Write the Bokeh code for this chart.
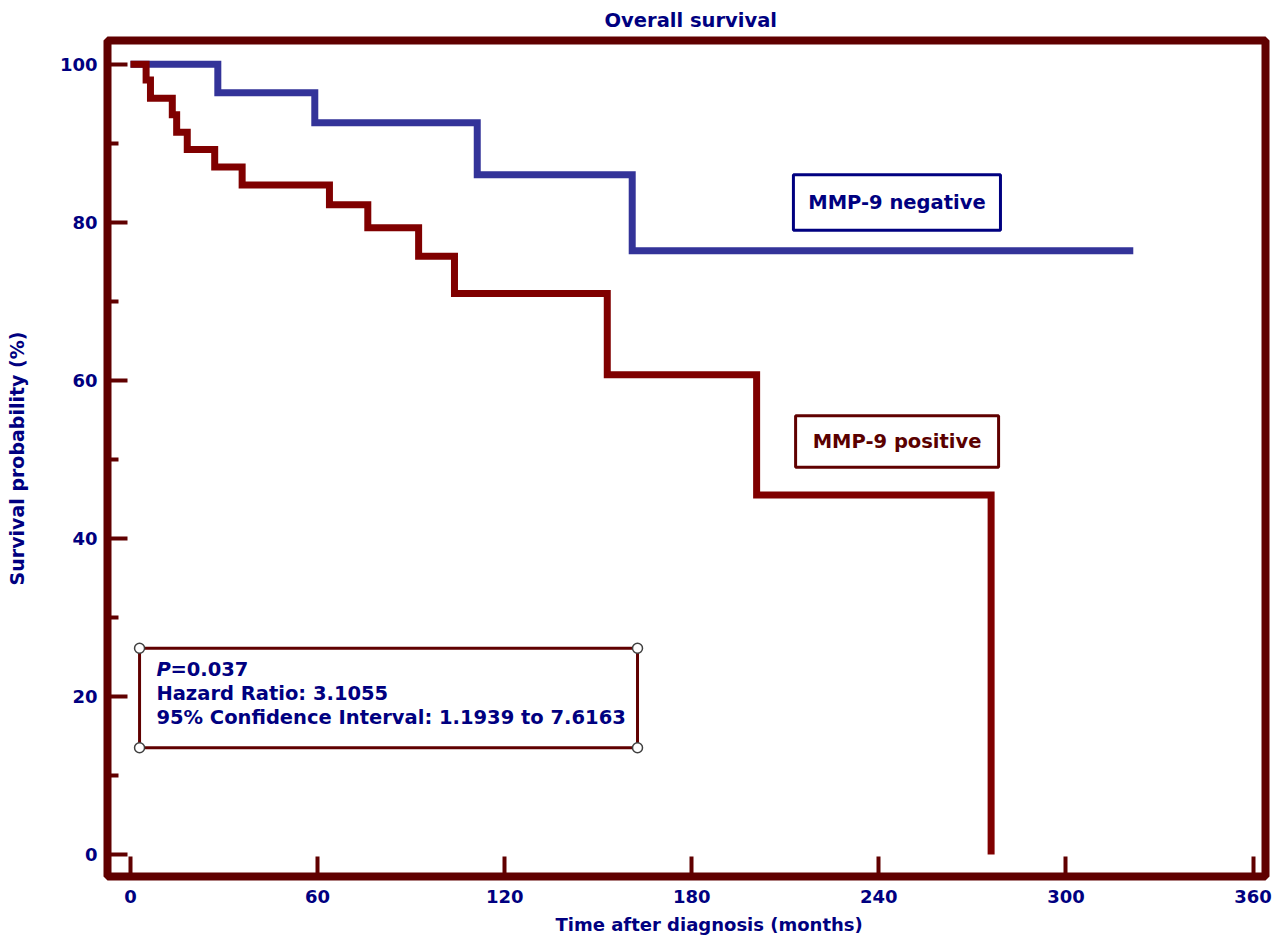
from bokeh.plotting import figure
from bokeh.models import Range1d, FixedTicker, BoxAnnotation, Label, Title
from bokeh.embed import file_html
from bokeh.resources import INLINE

# ---- data ----
neg_time = [0, 28.0, 59.1, 111.2, 160.9, 321.6]
neg_surv = [100, 96.4, 92.6, 86.0, 76.4, 76.4]
pos_time = [0, 5.0, 6.4, 13.4, 14.8, 18.2, 27.0, 35.8, 63.8, 76.1, 92.4, 103.9, 152.9, 200.8, 276.0]
pos_surv = [100, 98.0, 95.7, 93.6, 91.4, 89.2, 87.0, 84.7, 82.2, 79.3, 75.7, 71.0, 60.7, 45.5, 0]
x_ticks = [0, 60, 120, 180, 240, 300, 360]
y_ticks = [0, 20, 40, 60, 80, 100]
y_minor = [10, 30, 50, 70, 90]
title_text = "Overall survival"
x_label = "Time after diagnosis (months)"
y_label = "Survival probability (%)"
neg_label = "MMP-9 negative"
pos_label = "MMP-9 positive"
p_text = "=0.037"
stats_lines = ["Hazard Ratio: 3.1055", "95% Confidence Interval: 1.1939 to 7.6163"]

# ---- styles ----
FRAME = "#600000"
RED = "#800000"
BLUE = "#333399"
NAVY = "#000080"
FONT = "DejaVu Sans"

X0, X1 = -7.38, 364.0
Y0, Y1 = -2.79, 103.0

p = figure(width=1272, height=943, output_backend="svg", toolbar_location=None,
           x_range=Range1d(X0, X1), y_range=Range1d(Y0, Y1),
           min_border_left=107, min_border_right=7, min_border_top=40, min_border_bottom=67)
p.background_fill_color = "white"
p.border_fill_color = "white"
p.xgrid.visible = False
p.ygrid.visible = False
p.outline_line_color = FRAME
p.outline_line_width = 8

t = Title(text=title_text, align="left", offset=497, standoff=14, vertical_align="top",
          text_font=FONT, text_font_size="19.5px", text_font_style="bold", text_color=NAVY)
p.add_layout(t, "above")

for ax in (p.xaxis[0], p.yaxis[0]):
    ax.axis_line_color = None
    ax.major_tick_out = 0
    ax.major_tick_in = 20
    ax.major_tick_line_color = FRAME
    ax.major_tick_line_width = 4
    ax.minor_tick_out = 0
    ax.minor_tick_line_color = FRAME
    ax.minor_tick_line_width = 4
    ax.major_label_text_font = FONT
    ax.major_label_text_font_style = "bold"
    ax.major_label_text_font_size = "18px"
    ax.major_label_text_color = NAVY
    ax.axis_label_text_font = FONT
    ax.axis_label_text_font_style = "bold"
    ax.axis_label_text_color = NAVY

p.xaxis.ticker = FixedTicker(ticks=x_ticks, minor_ticks=[])
p.yaxis.ticker = FixedTicker(ticks=y_ticks, minor_ticks=y_minor)
p.xaxis.minor_tick_in = 0
p.yaxis.minor_tick_in = 11
p.xaxis.major_label_standoff = 13
p.yaxis.major_label_standoff = 10
p.yaxis.axis_label = y_label
p.yaxis.axis_label_text_font_size = "19px"
p.yaxis.axis_label_standoff = 29

# x-axis title placed below the axis, left-aligned with an offset
xt = Title(text=x_label, align="left", offset=448, standoff=13, text_font=FONT,
           text_font_size="18px", text_font_style="bold", text_color=NAVY)
p.add_layout(xt, "below")

# ---- curves ----
p.step(x=neg_time, y=neg_surv, mode="after", line_color=BLUE, line_width=7, line_join="miter")
p.step(x=pos_time, y=pos_surv, mode="after", line_color=RED, line_width=7, line_join="miter")

# ---- label boxes ----
neg_box = dict(left=212.6, right=279.0, top=86.0, bottom=79.0)
pos_box = dict(left=213.3, right=278.4, top=55.5, bottom=49.0)
st_box = dict(left=2.9, right=162.6, top=26.1, bottom=13.5)

p.add_layout(BoxAnnotation(**neg_box, fill_color="white", fill_alpha=1,
                           line_color=NAVY, line_width=3, line_alpha=1))
p.add_layout(BoxAnnotation(**pos_box, fill_color="white", fill_alpha=1,
                           line_color=FRAME, line_width=3, line_alpha=1))
p.add_layout(BoxAnnotation(**st_box, fill_color="white", fill_alpha=1,
                           line_color=FRAME, line_width=3, line_alpha=1))

p.add_layout(Label(x=(neg_box["left"] + neg_box["right"]) / 2, y=(neg_box["top"] + neg_box["bottom"]) / 2,
                   text=neg_label, text_align="center", text_baseline="middle",
                   text_font=FONT, text_font_style="bold", text_font_size="19.5px", text_color=NAVY))
p.add_layout(Label(x=(pos_box["left"] + pos_box["right"]) / 2, y=(pos_box["top"] + pos_box["bottom"]) / 2,
                   text=pos_label, text_align="center", text_baseline="middle",
                   text_font=FONT, text_font_style="bold", text_font_size="19.5px", text_color="#5a0000"))

tx = st_box["left"] + 5.4
line_y = [23.4, 20.4, 17.3]
p.add_layout(Label(x=tx, y=line_y[0], text="P", text_align="left", text_baseline="middle",
                   text_font=FONT, text_font_style="bold italic", text_font_size="19.5px", text_color=NAVY))
p.add_layout(Label(x=tx, y=line_y[0], x_offset=14, text=p_text, text_align="left", text_baseline="middle",
                   text_font=FONT, text_font_style="bold", text_font_size="19.5px", text_color=NAVY))
for yy, s in zip(line_y[1:], stats_lines):
    p.add_layout(Label(x=tx, y=yy, text=s, text_align="left", text_baseline="middle",
                       text_font=FONT, text_font_style="bold", text_font_size="19.5px", text_color=NAVY))

cx = [st_box["left"], st_box["right"], st_box["left"], st_box["right"]]
cy = [st_box["top"], st_box["top"], st_box["bottom"], st_box["bottom"]]
p.scatter(x=cx, y=cy, size=10, marker="circle", fill_color="white",
          line_color="#404040", line_width=1.5, level="overlay")

open("out.html", "w").write(file_html(p, INLINE))
